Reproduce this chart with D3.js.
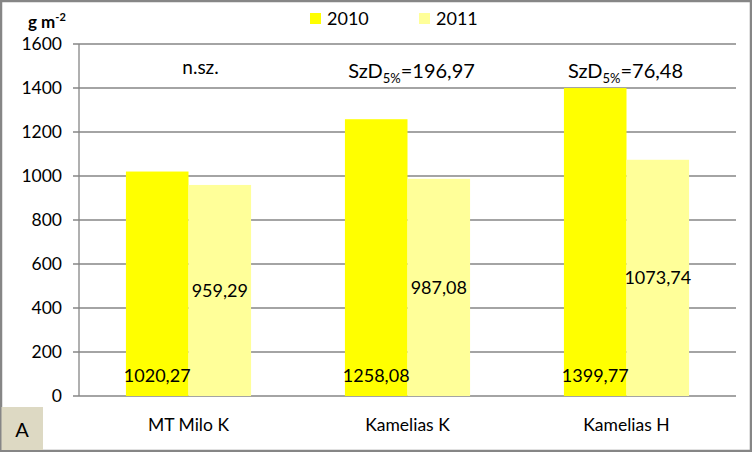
<!DOCTYPE html>
<html><head><meta charset="utf-8">
<script src="https://cdn.jsdelivr.net/npm/d3@7"></script>
<style>
html,body{margin:0;padding:0;background:#fff;}
svg{display:block;font-family:Lato,"Open Sans",sans-serif;}
</style></head>
<body>
<svg id="chart" width="752" height="452"></svg>
<script>
const categories = ["MT Milo K", "Kamelias K", "Kamelias H"];
const seriesNames = ["2010", "2011"];
const values2010 = [1020.27, 1258.08, 1399.77];
const values2011 = [959.29, 987.08, 1073.74];
const yTicks = [0, 200, 400, 600, 800, 1000, 1200, 1400, 1600];
const annotations = [
  {main: "n.sz.", sub: null, rest: null},
  {main: "SzD", sub: "5%", rest: "=196,97"},
  {main: "SzD", sub: "5%", rest: "=76,48"}
];
const colors = {"2010": "#FFFF00", "2011": "#FFFF99"};

const fmt = v => v.toFixed(2).replace(".", ",");
const svg = d3.select("#chart");
const W = 752, H = 452;
const m = {left: 79, right: 16, top: 44, bottom: 56};

// border
svg.append("rect").attr("x", 1).attr("y", 1).attr("width", W - 2).attr("height", H - 2)
  .attr("fill", "#fff").attr("stroke", "#868686").attr("stroke-width", 2.5);

const x0 = d3.scaleBand().domain(categories).range([m.left, W - m.right]).padding(0);
const x1 = d3.scaleBand().domain(seriesNames).range([0, x0.bandwidth()]).paddingInner(0).paddingOuter(0.75);
const y = d3.scaleLinear().domain([0, 1600]).range([H - m.bottom, m.top]);

// grid
svg.append("g").selectAll("line").data(yTicks).join("line")
  .attr("x1", m.left - 6).attr("x2", W - m.right)
  .attr("y1", d => y(d)).attr("y2", d => y(d))
  .attr("stroke", "#868686").attr("stroke-width", 1.3);

// y tick labels
svg.append("g").selectAll("text").data(yTicks).join("text")
  .attr("x", 62).attr("y", d => y(d)).attr("dy", "0.35em")
  .attr("text-anchor", "end").attr("font-size", 17.5).attr("fill", "#000")
  .text(d => d);

// data rows
const rows = categories.map((c, i) => ({cat: c, vals: [
  {s: "2010", v: values2010[i]}, {s: "2011", v: values2011[i]}]}));

const g = svg.append("g").selectAll("g").data(rows).join("g")
  .attr("transform", d => `translate(${x0(d.cat)},0)`);
g.selectAll("rect").data(d => d.vals).join("rect")
  .attr("x", d => x1(d.s)).attr("width", x1.bandwidth())
  .attr("y", d => y(d.v)).attr("height", d => y(0) - y(d.v))
  .attr("fill", d => colors[d.s]);

// y axis line
svg.append("line").attr("x1", m.left).attr("x2", m.left)
  .attr("y1", y(1600)).attr("y2", y(0)).attr("stroke", "#868686").attr("stroke-width", 1.3);

// data labels
g.selectAll("text.lbl").data(d => d.vals).join("text").attr("class", "lbl")
  .attr("x", d => x1(d.s) + x1.bandwidth() / 2)
  .attr("y", d => d.s === "2010" ? y(0) - 20 : y(d.v / 2))
  .attr("dy", "0.35em").attr("text-anchor", "middle")
  .attr("font-size", 18).attr("fill", "#000")
  .text(d => fmt(d.v));

// category labels
svg.append("g").selectAll("text").data(categories).join("text")
  .attr("x", d => x0(d) + x0.bandwidth() / 2).attr("y", 431)
  .attr("text-anchor", "middle").attr("font-size", 17.5).attr("fill", "#000")
  .text(d => d);

// annotations
svg.append("g").selectAll("text").data(annotations).join("text")
  .attr("x", (d, i) => x0(categories[i]) + x0.bandwidth() / 2 + [12, 4, -1][i])
  .attr("y", (d, i) => i === 0 ? 74 : 78)
  .attr("text-anchor", "middle").attr("font-size", (d, i) => i === 0 ? 19 : 20).attr("fill", "#000")
  .each(function(d) {
    const t = d3.select(this);
    t.append("tspan").text(d.main);
    if (d.sub) {
      t.append("tspan").attr("font-size", 13).attr("dy", 5).text(d.sub);
      t.append("tspan").attr("dy", -5).text(d.rest);
    }
  });

// y unit label
const u = svg.append("text").attr("x", 28).attr("y", 28).attr("font-size", 17).attr("font-weight", "bold");
u.append("tspan").text("g m");
u.append("tspan").attr("font-size", 11).attr("dy", -7).text("-2");

// legend
const leg = svg.append("g").selectAll("g").data(seriesNames).join("g")
  .attr("transform", (d, i) => `translate(${310 + i * 109},13)`);
leg.append("rect").attr("width", 11).attr("height", 11).attr("fill", d => colors[d]);
leg.append("text").attr("x", 17).attr("y", 12).attr("font-size", 18).text(d => d);

// "A" box
svg.append("rect").attr("x", 1.5).attr("y", 407).attr("width", 41.5).attr("height", 43)
  .attr("fill", "#DDD9C3");
svg.append("text").attr("x", 22).attr("y", 437).attr("text-anchor", "middle")
  .attr("font-size", 20).text("A");
</script>
</body></html>
